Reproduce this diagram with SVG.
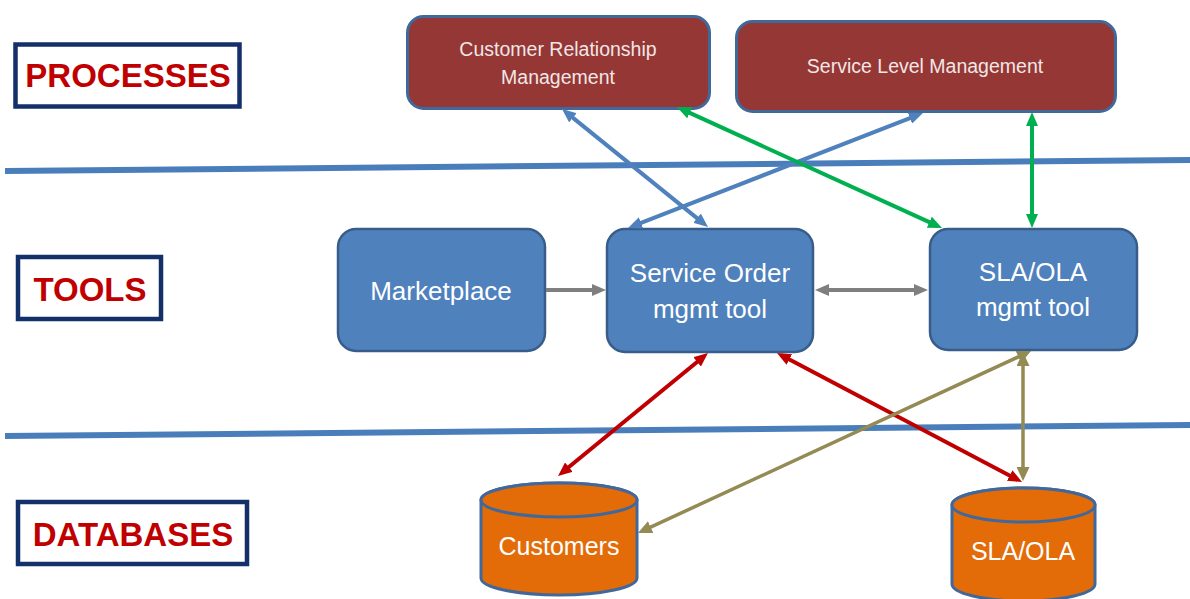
<svg xmlns="http://www.w3.org/2000/svg" width="1190" height="599" viewBox="0 0 1190 599">
<style>
.lbl{fill:#fff;stroke:#13306a;stroke-width:4.5}
.lbltxt{font-family:"Liberation Sans",Arial,sans-serif;font-weight:bold;font-size:33px;fill:#c00000;text-anchor:middle}
.proc{fill:#953735;stroke:#41689a;stroke-width:3}
.proctxt{font-family:"Liberation Sans",Arial,sans-serif;font-size:19.5px;fill:#f2e6e6;text-anchor:middle}
.tool{fill:#4f81bd;stroke:#385d8a;stroke-width:2.5}
.tooltxt{font-family:"Liberation Sans",Arial,sans-serif;font-size:26px;fill:#fff;text-anchor:middle}
.db{fill:#e36c09;stroke:#41689a;stroke-width:3}
.dbtxt{font-family:"Liberation Sans",Arial,sans-serif;font-size:25px;fill:#fff;text-anchor:middle}
.sep{stroke:#4a7ebb;stroke-width:6;fill:none}
.c{fill:none;stroke-width:4}
.blue{stroke:#4f81bd}
.green{stroke:#00b050}
.gray{stroke:#7f7f7f}
.red{stroke:#c00000}
.olive{stroke:#948a54;stroke-width:3.5}
</style>
<defs>
<marker id="ab" markerUnits="userSpaceOnUse" markerWidth="14" markerHeight="12" refX="9" refY="6" orient="auto-start-reverse"><path d="M0,0 L14,6 L0,12 z" fill="#4f81bd"/></marker>
<marker id="ag" markerUnits="userSpaceOnUse" markerWidth="14" markerHeight="12" refX="9" refY="6" orient="auto-start-reverse"><path d="M0,0 L14,6 L0,12 z" fill="#00b050"/></marker>
<marker id="agr" markerUnits="userSpaceOnUse" markerWidth="14" markerHeight="12" refX="9" refY="6" orient="auto-start-reverse"><path d="M0,0 L14,6 L0,12 z" fill="#7f7f7f"/></marker>
<marker id="ar" markerUnits="userSpaceOnUse" markerWidth="14" markerHeight="12" refX="9" refY="6" orient="auto-start-reverse"><path d="M0,0 L14,6 L0,12 z" fill="#c00000"/></marker>
<marker id="ao" markerUnits="userSpaceOnUse" markerWidth="14" markerHeight="13" refX="9" refY="6.5" orient="auto-start-reverse"><path d="M0,0 L14,6.5 L0,13 z" fill="#948a54"/></marker>
</defs>
<rect width="1190" height="599" fill="#fff"/>

<g id="separators">
<line class="sep" x1="5" y1="171" x2="1190" y2="160"/>
<line class="sep" x1="5" y1="436" x2="1190" y2="425"/>
</g>

<g id="label-processes"><rect class="lbl" x="15.5" y="44.5" width="224" height="62"/><text class="lbltxt" x="128" y="87">PROCESSES</text></g>
<g id="label-tools"><rect class="lbl" x="18" y="257" width="143" height="62"/><text class="lbltxt" x="90" y="301">TOOLS</text></g>
<g id="label-databases"><rect class="lbl" x="18" y="502" width="229" height="62"/><text class="lbltxt" x="133" y="546">DATABASES</text></g>

<g id="crm"><rect class="proc" x="407.5" y="16.5" width="302" height="92" rx="16"/><text class="proctxt" x="558" y="56">Customer Relationship</text><text class="proctxt" x="558" y="84">Management</text></g>
<g id="slm"><rect class="proc" x="736.5" y="21.5" width="379" height="90" rx="16"/><text class="proctxt" x="925" y="73">Service Level Management</text></g>

<g id="marketplace"><rect class="tool" x="338" y="229" width="207" height="122" rx="18"/><text class="tooltxt" x="441" y="300">Marketplace</text></g>
<g id="service-order"><rect class="tool" x="607" y="229" width="206" height="123" rx="18"/><text class="tooltxt" x="710" y="282">Service Order</text><text class="tooltxt" x="710" y="318">mgmt tool</text></g>
<g id="sla-tool"><rect class="tool" x="930" y="229" width="207" height="121" rx="18"/><text class="tooltxt" x="1033" y="281">SLA/OLA</text><text class="tooltxt" x="1033" y="316">mgmt tool</text></g>

<g id="customers-db"><path class="db" d="M481,500 L481,578 A78,17 0 0 0 637,578 L637,500 A78,17 0 0 0 481,500 Z"/><ellipse class="db" cx="559" cy="500" rx="78" ry="17"/><text class="dbtxt" x="559" y="555">Customers</text></g>
<g id="sla-db"><path class="db" d="M952,505 L952,584 A71.5,17 0 0 0 1095,584 L1095,505 A71.5,17 0 0 0 952,505 Z"/><ellipse class="db" cx="1023.5" cy="505" rx="71.5" ry="17"/><text class="dbtxt" x="1023" y="560">SLA/OLA</text></g>

<g id="connectors">
<line class="c blue" x1="565.9" y1="112.1" x2="704.1" y2="223.9" marker-start="url(#ab)" marker-end="url(#ab)"/>
<line class="c blue" x1="918.3" y1="114.8" x2="632.7" y2="226.2" marker-start="url(#ab)" marker-end="url(#ab)"/>
<line class="c green" x1="681.5" y1="109.1" x2="937.5" y2="225.9" marker-start="url(#ag)" marker-end="url(#ag)"/>
<line class="c green" x1="1032" y1="117" x2="1032" y2="223" marker-start="url(#ag)" marker-end="url(#ag)"/>
<line class="c gray" x1="546" y1="290" x2="601" y2="290" marker-end="url(#agr)"/>
<line class="c gray" x1="820" y1="290" x2="923" y2="290" marker-start="url(#agr)" marker-end="url(#agr)"/>
<line class="c red" x1="704.1" y1="356.2" x2="561.9" y2="472.8" marker-start="url(#ar)" marker-end="url(#ar)"/>
<line class="c red" x1="781.4" y1="355.3" x2="1017.6" y2="479.7" marker-start="url(#ar)" marker-end="url(#ar)"/>
<line class="c olive" x1="1026.5" y1="353.1" x2="642.5" y2="530.9" marker-start="url(#ao)" marker-end="url(#ao)"/>
<line class="c olive" x1="1023" y1="357" x2="1023" y2="476" marker-start="url(#ao)" marker-end="url(#ao)"/>
</g>
</svg>
